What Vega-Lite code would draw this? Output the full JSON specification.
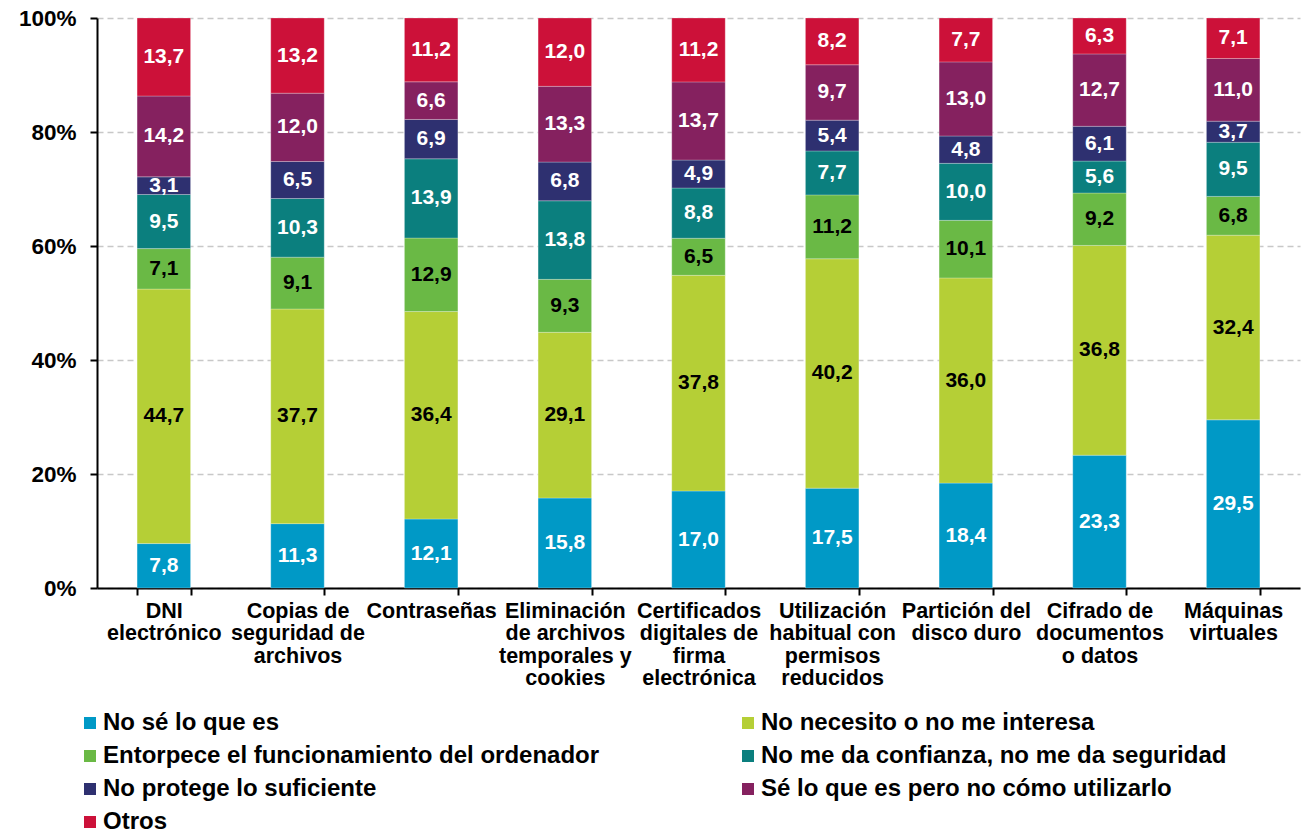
{
  "$schema": "https://vega.github.io/schema/vega-lite/v6.json",
  "width": 1203,
  "height": 570,
  "autosize": {"type": "none"},
  "padding": {"left": 97, "top": 18, "right": 11, "bottom": 249},
  "background": "white",
  "config": {
    "locale": {"number": {"decimal": ",", "thousands": ".", "grouping": [3], "currency": ["", " €"]}},
    "view": {"stroke": null},
    "font": "Liberation Sans"
  },
  "data": {
    "values": [
      {"cat": "DNI|electrónico", "ci": 0, "serie": "No sé lo que es", "o": 0, "v": 7.8},
      {"cat": "DNI|electrónico", "ci": 0, "serie": "No necesito o no me interesa", "o": 1, "v": 44.7},
      {"cat": "DNI|electrónico", "ci": 0, "serie": "Entorpece el funcionamiento del ordenador", "o": 2, "v": 7.1},
      {"cat": "DNI|electrónico", "ci": 0, "serie": "No me da confianza, no me da seguridad", "o": 3, "v": 9.5},
      {"cat": "DNI|electrónico", "ci": 0, "serie": "No protege lo suficiente", "o": 4, "v": 3.1},
      {"cat": "DNI|electrónico", "ci": 0, "serie": "Sé lo que es pero no cómo utilizarlo", "o": 5, "v": 14.2},
      {"cat": "DNI|electrónico", "ci": 0, "serie": "Otros", "o": 6, "v": 13.7},

      {"cat": "Copias de|seguridad de|archivos", "ci": 1, "serie": "No sé lo que es", "o": 0, "v": 11.3},
      {"cat": "Copias de|seguridad de|archivos", "ci": 1, "serie": "No necesito o no me interesa", "o": 1, "v": 37.7},
      {"cat": "Copias de|seguridad de|archivos", "ci": 1, "serie": "Entorpece el funcionamiento del ordenador", "o": 2, "v": 9.1},
      {"cat": "Copias de|seguridad de|archivos", "ci": 1, "serie": "No me da confianza, no me da seguridad", "o": 3, "v": 10.3},
      {"cat": "Copias de|seguridad de|archivos", "ci": 1, "serie": "No protege lo suficiente", "o": 4, "v": 6.5},
      {"cat": "Copias de|seguridad de|archivos", "ci": 1, "serie": "Sé lo que es pero no cómo utilizarlo", "o": 5, "v": 12.0},
      {"cat": "Copias de|seguridad de|archivos", "ci": 1, "serie": "Otros", "o": 6, "v": 13.2},

      {"cat": "Contraseñas", "ci": 2, "serie": "No sé lo que es", "o": 0, "v": 12.1},
      {"cat": "Contraseñas", "ci": 2, "serie": "No necesito o no me interesa", "o": 1, "v": 36.4},
      {"cat": "Contraseñas", "ci": 2, "serie": "Entorpece el funcionamiento del ordenador", "o": 2, "v": 12.9},
      {"cat": "Contraseñas", "ci": 2, "serie": "No me da confianza, no me da seguridad", "o": 3, "v": 13.9},
      {"cat": "Contraseñas", "ci": 2, "serie": "No protege lo suficiente", "o": 4, "v": 6.9},
      {"cat": "Contraseñas", "ci": 2, "serie": "Sé lo que es pero no cómo utilizarlo", "o": 5, "v": 6.6},
      {"cat": "Contraseñas", "ci": 2, "serie": "Otros", "o": 6, "v": 11.2},

      {"cat": "Eliminación|de archivos|temporales y|cookies", "ci": 3, "serie": "No sé lo que es", "o": 0, "v": 15.8},
      {"cat": "Eliminación|de archivos|temporales y|cookies", "ci": 3, "serie": "No necesito o no me interesa", "o": 1, "v": 29.1},
      {"cat": "Eliminación|de archivos|temporales y|cookies", "ci": 3, "serie": "Entorpece el funcionamiento del ordenador", "o": 2, "v": 9.3},
      {"cat": "Eliminación|de archivos|temporales y|cookies", "ci": 3, "serie": "No me da confianza, no me da seguridad", "o": 3, "v": 13.8},
      {"cat": "Eliminación|de archivos|temporales y|cookies", "ci": 3, "serie": "No protege lo suficiente", "o": 4, "v": 6.8},
      {"cat": "Eliminación|de archivos|temporales y|cookies", "ci": 3, "serie": "Sé lo que es pero no cómo utilizarlo", "o": 5, "v": 13.3},
      {"cat": "Eliminación|de archivos|temporales y|cookies", "ci": 3, "serie": "Otros", "o": 6, "v": 12.0},

      {"cat": "Certificados|digitales de|firma|electrónica", "ci": 4, "serie": "No sé lo que es", "o": 0, "v": 17.0},
      {"cat": "Certificados|digitales de|firma|electrónica", "ci": 4, "serie": "No necesito o no me interesa", "o": 1, "v": 37.8},
      {"cat": "Certificados|digitales de|firma|electrónica", "ci": 4, "serie": "Entorpece el funcionamiento del ordenador", "o": 2, "v": 6.5},
      {"cat": "Certificados|digitales de|firma|electrónica", "ci": 4, "serie": "No me da confianza, no me da seguridad", "o": 3, "v": 8.8},
      {"cat": "Certificados|digitales de|firma|electrónica", "ci": 4, "serie": "No protege lo suficiente", "o": 4, "v": 4.9},
      {"cat": "Certificados|digitales de|firma|electrónica", "ci": 4, "serie": "Sé lo que es pero no cómo utilizarlo", "o": 5, "v": 13.7},
      {"cat": "Certificados|digitales de|firma|electrónica", "ci": 4, "serie": "Otros", "o": 6, "v": 11.2},

      {"cat": "Utilización|habitual con|permisos|reducidos", "ci": 5, "serie": "No sé lo que es", "o": 0, "v": 17.5},
      {"cat": "Utilización|habitual con|permisos|reducidos", "ci": 5, "serie": "No necesito o no me interesa", "o": 1, "v": 40.2},
      {"cat": "Utilización|habitual con|permisos|reducidos", "ci": 5, "serie": "Entorpece el funcionamiento del ordenador", "o": 2, "v": 11.2},
      {"cat": "Utilización|habitual con|permisos|reducidos", "ci": 5, "serie": "No me da confianza, no me da seguridad", "o": 3, "v": 7.7},
      {"cat": "Utilización|habitual con|permisos|reducidos", "ci": 5, "serie": "No protege lo suficiente", "o": 4, "v": 5.4},
      {"cat": "Utilización|habitual con|permisos|reducidos", "ci": 5, "serie": "Sé lo que es pero no cómo utilizarlo", "o": 5, "v": 9.7},
      {"cat": "Utilización|habitual con|permisos|reducidos", "ci": 5, "serie": "Otros", "o": 6, "v": 8.2},

      {"cat": "Partición del|disco duro", "ci": 6, "serie": "No sé lo que es", "o": 0, "v": 18.4},
      {"cat": "Partición del|disco duro", "ci": 6, "serie": "No necesito o no me interesa", "o": 1, "v": 36.0},
      {"cat": "Partición del|disco duro", "ci": 6, "serie": "Entorpece el funcionamiento del ordenador", "o": 2, "v": 10.1},
      {"cat": "Partición del|disco duro", "ci": 6, "serie": "No me da confianza, no me da seguridad", "o": 3, "v": 10.0},
      {"cat": "Partición del|disco duro", "ci": 6, "serie": "No protege lo suficiente", "o": 4, "v": 4.8},
      {"cat": "Partición del|disco duro", "ci": 6, "serie": "Sé lo que es pero no cómo utilizarlo", "o": 5, "v": 13.0},
      {"cat": "Partición del|disco duro", "ci": 6, "serie": "Otros", "o": 6, "v": 7.7},

      {"cat": "Cifrado de|documentos|o datos", "ci": 7, "serie": "No sé lo que es", "o": 0, "v": 23.3},
      {"cat": "Cifrado de|documentos|o datos", "ci": 7, "serie": "No necesito o no me interesa", "o": 1, "v": 36.8},
      {"cat": "Cifrado de|documentos|o datos", "ci": 7, "serie": "Entorpece el funcionamiento del ordenador", "o": 2, "v": 9.2},
      {"cat": "Cifrado de|documentos|o datos", "ci": 7, "serie": "No me da confianza, no me da seguridad", "o": 3, "v": 5.6},
      {"cat": "Cifrado de|documentos|o datos", "ci": 7, "serie": "No protege lo suficiente", "o": 4, "v": 6.1},
      {"cat": "Cifrado de|documentos|o datos", "ci": 7, "serie": "Sé lo que es pero no cómo utilizarlo", "o": 5, "v": 12.7},
      {"cat": "Cifrado de|documentos|o datos", "ci": 7, "serie": "Otros", "o": 6, "v": 6.3},

      {"cat": "Máquinas|virtuales", "ci": 8, "serie": "No sé lo que es", "o": 0, "v": 29.5},
      {"cat": "Máquinas|virtuales", "ci": 8, "serie": "No necesito o no me interesa", "o": 1, "v": 32.4},
      {"cat": "Máquinas|virtuales", "ci": 8, "serie": "Entorpece el funcionamiento del ordenador", "o": 2, "v": 6.8},
      {"cat": "Máquinas|virtuales", "ci": 8, "serie": "No me da confianza, no me da seguridad", "o": 3, "v": 9.5},
      {"cat": "Máquinas|virtuales", "ci": 8, "serie": "No protege lo suficiente", "o": 4, "v": 3.7},
      {"cat": "Máquinas|virtuales", "ci": 8, "serie": "Sé lo que es pero no cómo utilizarlo", "o": 5, "v": 11.0},
      {"cat": "Máquinas|virtuales", "ci": 8, "serie": "Otros", "o": 6, "v": 7.1}
    ]
  },
  "transform": [
    {"stack": "v", "groupby": ["cat"], "sort": [{"field": "o", "order": "ascending"}], "as": ["y0", "y1"], "offset": "normalize"},
    {"calculate": "(datum.y0 + datum.y1) / 2", "as": "ym"}
  ],
  "encoding": {
    "x": {
      "field": "cat",
      "type": "nominal",
      "sort": {"field": "ci"},
      "scale": {"paddingInner": 0.6, "paddingOuter": 0.3},
      "axis": {
        "title": null,
        "labelAngle": 0,
        "labelExpr": "split(datum.label, '|')",
        "labelFont": "Liberation Sans",
        "labelFontSize": 21.5,
        "labelFontWeight": "bold",
        "labelColor": "black",
        "labelLineHeight": 22.5,
        "labelPadding": 5,
        "labelBaseline": "top",
        "labelLimit": 200,
        "domainColor": "black",
        "domainWidth": 2,
        "tickColor": "black",
        "tickWidth": 2,
        "tickSize": 7,
        "tickBand": "extent",
        "grid": false
      }
    }
  },
  "layer": [
    {
      "mark": {"type": "bar", "stroke": "white", "strokeWidth": 0.5, "strokeOpacity": 0.5},
      "encoding": {
        "y": {
          "field": "y0",
          "type": "quantitative",
          "scale": {"domain": [0, 1]},
          "axis": {
            "title": null,
            "format": ".0%",
            "values": [0, 0.2, 0.4, 0.6, 0.8, 1],
            "labelFont": "Liberation Sans",
            "labelFontSize": 22.5,
            "labelFontWeight": "bold",
            "labelColor": "black",
            "labelPadding": 14,
            "domainColor": "black",
            "domainWidth": 2,
            "tickColor": "black",
            "tickWidth": 2,
            "tickSize": 7,
            "grid": true,
            "gridColor": "#C8C8C8",
            "gridDash": [6, 4],
            "gridWidth": 1.5
          }
        },
        "y2": {"field": "y1"},
        "color": {
          "field": "serie",
          "type": "nominal",
          "sort": {"field": "o"},
          "scale": {
            "domain": [
              "No sé lo que es",
              "No necesito o no me interesa",
              "Entorpece el funcionamiento del ordenador",
              "No me da confianza, no me da seguridad",
              "No protege lo suficiente",
              "Sé lo que es pero no cómo utilizarlo",
              "Otros"
            ],
            "range": ["#0099C6", "#B5CF36", "#6AB945", "#0B7F7E", "#2E3070", "#85215F", "#CC1139"]
          },
          "legend": {
            "title": null,
            "orient": "none",
            "legendX": -19,
            "legendY": 693,
            "columns": 2,
            "direction": "horizontal",
            "symbolType": "square",
            "symbolSize": 144,
            "symbolStrokeWidth": 0,
            "labelFont": "Liberation Sans",
            "labelFontSize": 24,
            "labelFontWeight": "bold",
            "labelColor": "black",
            "labelLimit": 700,
            "labelOffset": 1,
            "columnPadding": 136,
            "rowPadding": 9
          }
        }
      }
    },
    {
      "mark": {"type": "text", "font": "Liberation Sans", "fontSize": 21, "fontWeight": "bold", "baseline": "middle", "align": "center"},
      "encoding": {
        "y": {"field": "ym", "type": "quantitative"},
        "text": {"field": "v", "type": "quantitative", "format": ".1f"},
        "color": {
          "condition": {"test": "datum.o == 1 || datum.o == 2", "value": "black"},
          "value": "white"
        }
      }
    }
  ]
}
